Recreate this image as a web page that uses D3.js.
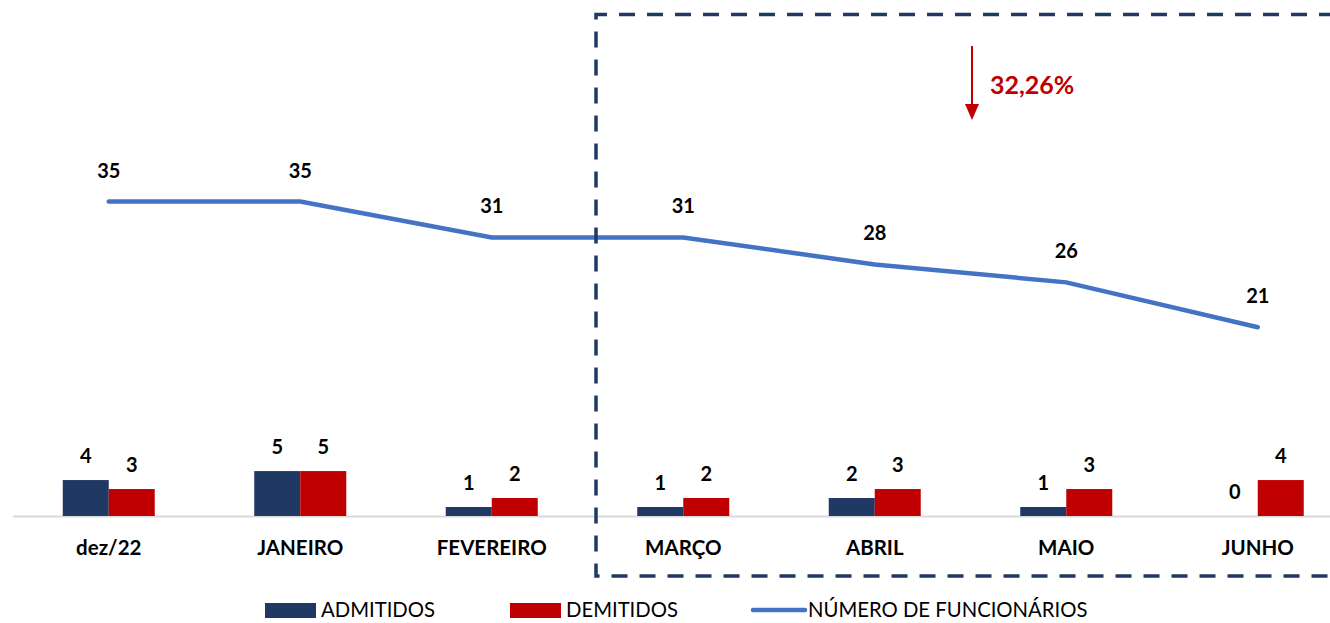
<!DOCTYPE html>
<html><head><meta charset="utf-8">
<script src="https://cdn.jsdelivr.net/npm/d3@7"></script>
<style>body{margin:0;background:#fff;} text{font-family:Lato,"Open Sans",sans-serif;}</style>
</head><body>
<svg id="c" width="1330" height="623"></svg>
<script>
const categories = ["dez/22","JANEIRO","FEVEREIRO","MARÇO","ABRIL","MAIO","JUNHO"];
const admitidos = [4,5,1,1,2,1,0];
const demitidos = [3,5,2,2,3,3,4];
const funcionarios = [35,35,31,31,28,26,21];
const seriesNames = ["ADMITIDOS","DEMITIDOS","NÚMERO DE FUNCIONÁRIOS"];
const annotation = "32,26%";

const svg = d3.select("#c");
const navy = "#203864", red = "#C00000", blue = "#4472C4";
const x = d3.scaleBand().domain(categories).range([13, 1353.5]).padding(0);
const y = d3.scaleLinear().domain([0, 35]).range([516, 201.5]);
const xs = d3.scaleBand().domain(["a","d"]).range([-46, 46]);

// axis baseline
svg.append("line").attr("x1",13).attr("x2",1330).attr("y1",516.5).attr("y2",516.5)
  .attr("stroke","#d9d9d9").attr("stroke-width",2);

const cx = c => x(c) + x.bandwidth()/2;
const bars = [{k:"a",v:admitidos,col:navy},{k:"d",v:demitidos,col:red}];
bars.forEach(s=>{
  svg.append("g").selectAll("rect").data(categories).join("rect")
    .attr("x", (c)=>cx(c)+xs(s.k)).attr("width", xs.bandwidth())
    .attr("y", (c,i)=>y(s.v[i])).attr("height",(c,i)=>y(0)-y(s.v[i]))
    .attr("fill", s.col);
  svg.append("g").selectAll("text").data(categories).join("text")
    .attr("x",(c)=>cx(c)+xs(s.k)+xs.bandwidth()/2)
    .attr("y",(c,i)=>y(s.v[i])-17)
    .attr("text-anchor","middle").attr("font-size",20).attr("font-weight","bold").attr("fill","#000")
    .text((c,i)=>s.v[i]);
});

// line
const line = d3.line().x((d,i)=>cx(categories[i])).y(d=>y(d));
svg.append("path").datum(funcionarios).attr("d",line).attr("fill","none")
  .attr("stroke",blue).attr("stroke-width",4.5).attr("stroke-linecap","round");
svg.append("g").selectAll("text").data(funcionarios).join("text")
  .attr("x",(d,i)=>cx(categories[i])).attr("y",d=>y(d)-24)
  .attr("text-anchor","middle").attr("font-size",20).attr("font-weight","bold").attr("fill","#000")
  .text(d=>d);

// category labels
svg.append("g").selectAll("text").data(categories).join("text")
  .attr("x",c=>cx(c)).attr("y",555)
  .attr("text-anchor","middle").attr("font-size",20.5).attr("font-weight","bold").attr("fill","#000")
  .text(c=>c);

// dashed rectangle
svg.append("path").attr("d","M1335,14.5 H596 V576 H1335")
  .attr("fill","none").attr("stroke",navy).attr("stroke-width",3.5).attr("stroke-dasharray","16 12");

// arrow + annotation
svg.append("line").attr("x1",972).attr("x2",972).attr("y1",46).attr("y2",105)
  .attr("stroke",red).attr("stroke-width",2);
svg.append("path").attr("d","M965,104 L979,104 L972,120 Z").attr("fill",red);
svg.append("text").attr("x",990).attr("y",94).attr("font-size",25).attr("font-weight","bold")
  .attr("fill",red).text(annotation);

// legend
const lg = svg.append("g");
lg.append("rect").attr("x",265).attr("y",603).attr("width",51).attr("height",15).attr("fill",navy);
lg.append("text").attr("x",321).attr("y",617).attr("font-size",20.3).attr("fill","#000").text(seriesNames[0]);
lg.append("rect").attr("x",510).attr("y",603).attr("width",51).attr("height",15).attr("fill",red);
lg.append("text").attr("x",566).attr("y",617).attr("font-size",20.3).attr("fill","#000").text(seriesNames[1]);
lg.append("line").attr("x1",753).attr("x2",805).attr("y1",610).attr("y2",610)
  .attr("stroke",blue).attr("stroke-width",4.5).attr("stroke-linecap","round");
lg.append("text").attr("x",808).attr("y",617).attr("font-size",20.3).attr("fill","#000").text(seriesNames[2]);
</script>
</body></html>
